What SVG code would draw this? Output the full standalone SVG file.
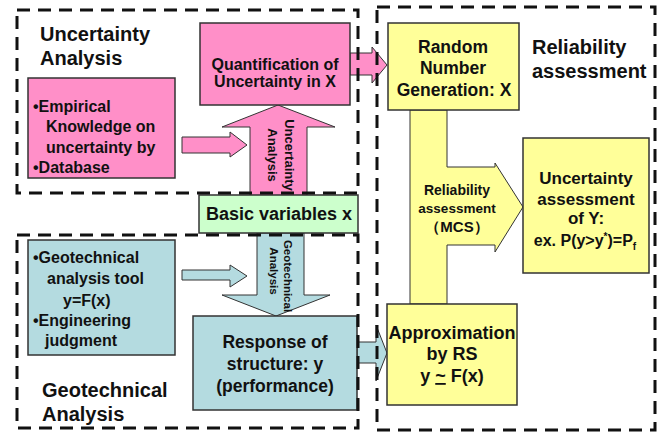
<svg xmlns="http://www.w3.org/2000/svg" width="663" height="437" viewBox="0 0 663 437">
<style>
text{font-family:"Liberation Sans",Arial,sans-serif;font-weight:bold;fill:#111}
.t{font-size:16px}
.u{font-size:17.5px}
.h{font-size:20px}
.s{font-size:13px}
.pink{fill:#ff8fc8;stroke:#333;stroke-width:1.5}
.blue{fill:#b4dbe0;stroke:#333;stroke-width:1.5}
.yel{fill:#ffff99;stroke:#333;stroke-width:1.5}
.grn{fill:#ccffcc;stroke:#333;stroke-width:1.5}
.ar{stroke-width:1}
.dash{fill:none;stroke:#111;stroke-width:3;stroke-dasharray:13 8}
</style>
<rect width="663" height="437" fill="#fff"/>
<g id="connectors">
  <polygon class="pink ar" points="250,200 250,127 222,127 278,105 335,127 307,127 307,200"/>
  <polygon class="pink ar" points="182,137 230,137 230,132 247,145 230,157 230,153 182,153"/>
  <polygon class="pink ar" points="350,53 372,53 372,47 387,65 372,83 372,75 350,75"/>
  <polygon class="blue ar" points="257,233 304,233 304,295 330,295 276,316 222,295 257,295"/>
  <polygon class="blue ar" points="182,270 230,270 230,265 247,276 230,287 230,280 182,280"/>
  <polygon class="blue ar" points="357,342 376,342 376,325 387,353 376,381 376,363 357,363"/>
  <polygon class="yel ar" points="410,110 447,110 447,167 495,167 495,163 523,207 495,252 495,245 447,245 447,304 410,304"/>
  <text class="s" transform="translate(285,155) rotate(90)" text-anchor="middle">Uncertainty</text>
  <text class="s" transform="translate(268,155) rotate(90)" text-anchor="middle">Analysis</text>
  <text transform="translate(284,276) rotate(90)" text-anchor="middle" font-size="11.5">Geotechnical</text>
  <text transform="translate(270,271) rotate(90)" text-anchor="middle" font-size="11.5">Analysis</text>
  <text x="457" y="195" text-anchor="middle" font-size="14">Reliability</text>
  <text x="457" y="213" text-anchor="middle" font-size="13.5">assessment</text>
  <text x="457" y="232" text-anchor="middle" font-size="15">（MCS）</text>
</g>
<g id="empirical">
  <rect class="pink" x="28" y="78" width="147" height="100"/>
  <text class="t" x="33" y="112">•Empirical</text>
  <text class="t" x="46" y="132">Knowledge on</text>
  <text class="t" x="46" y="153">uncertainty by</text>
  <text class="t" x="33" y="173">•Database</text>
</g>
<g id="quantification">
  <rect class="pink" x="200" y="23" width="150" height="82"/>
  <text x="275" y="70" text-anchor="middle" font-size="16">Quantification of</text>
  <text x="275" y="87" text-anchor="middle" font-size="16">Uncertainty in X</text>
</g>
<g id="basic">
  <rect class="grn" x="199" y="195" width="159" height="38"/>
  <text x="279" y="220" text-anchor="middle" font-size="18">Basic variables x</text>
</g>
<g id="geotool">
  <rect class="blue" x="28" y="240" width="147" height="115"/>
  <text class="t" x="33" y="263">•Geotechnical</text>
  <text class="t" x="47" y="284">analysis tool</text>
  <text class="t" x="63" y="306">y=F(x)</text>
  <text class="t" x="33" y="326">•Engineering</text>
  <text class="t" x="45" y="346">judgment</text>
</g>
<g id="response">
  <rect class="blue" x="193" y="316" width="164" height="94"/>
  <text class="u" x="275" y="348" text-anchor="middle">Response of</text>
  <text class="u" x="275" y="370" text-anchor="middle">structure: y</text>
  <text class="u" x="275" y="392" text-anchor="middle">(performance)</text>
</g>
<g id="random">
  <rect class="yel" x="388" y="23" width="131" height="87"/>
  <text class="u" x="453" y="53" text-anchor="middle">Random</text>
  <text class="u" x="453" y="74" text-anchor="middle">Number</text>
  <text class="u" x="454" y="96" text-anchor="middle">Generation: X</text>
</g>
<g id="assessment">
  <rect class="yel" x="523" y="138" width="126" height="135"/>
  <text x="586" y="184" text-anchor="middle" font-size="17">Uncertainty</text>
  <text x="586" y="205" text-anchor="middle" font-size="17">assessment</text>
  <text x="586" y="224" text-anchor="middle" font-size="17">of Y:</text>
  <text x="585" y="246" text-anchor="middle" font-size="16">ex. P(y&gt;y<tspan font-size="10" dy="-6">*</tspan><tspan dy="6">)=P</tspan><tspan font-size="10" dy="4">f</tspan></text>
</g>
<g id="approx">
  <rect class="yel" x="387" y="304" width="130" height="101"/>
  <text x="452" y="339" text-anchor="middle" font-size="18">Approximation</text>
  <text x="452" y="360" text-anchor="middle" font-size="18">by RS</text>
  <text x="452" y="382" text-anchor="middle" font-size="18">y <tspan text-decoration="underline">~</tspan> F(x)</text>
</g>
<g id="regions">
  <rect class="dash" x="17" y="10" width="341" height="183"/>
  <rect class="dash" x="17" y="235" width="341" height="193"/>
  <rect class="dash" x="377" y="7" width="278" height="423"/>
  <text class="h" x="40" y="41">Uncertainty</text>
  <text class="h" x="40" y="65">Analysis</text>
  <text class="h" x="532" y="54">Reliability</text>
  <text class="h" x="532" y="78">assessment</text>
  <text class="h" x="42" y="397">Geotechnical</text>
  <text class="h" x="42" y="421">Analysis</text>
</g>
</svg>
